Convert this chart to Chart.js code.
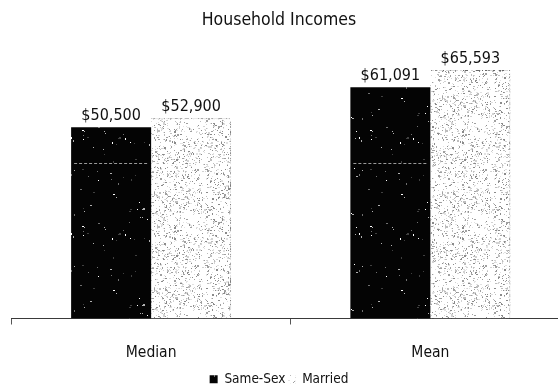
<!DOCTYPE html>
<html>
<head>
<meta charset="utf-8">
<style>
  html, body { margin: 0; padding: 0; background: #fff; }
  #wrap { width: 558px; height: 386px; position: relative; overflow: hidden; }
</style>
<script src="https://cdn.jsdelivr.net/npm/chart.js@4/dist/chart.umd.min.js"></script>
</head>
<body>
<div id="wrap"><canvas id="c" width="570" height="386"></canvas></div>
<script>
// Household income figures by couple type
const categories = ['Median', 'Mean'];
const seriesNames = ['Same-Sex', 'Married'];
const sameSexIncome = [50500, 61091];
const marriedIncome = [52900, 65593];
const yTop = 70000;
const refLineValue = 41000;

const FONT = '"DejaVu Sans Condensed", "DejaVu Sans", sans-serif';

// Small deterministic generator for the print-style grain texture
function makeRng(seed) {
  let s = seed >>> 0;
  return function () {
    s = (s * 1664525 + 1013904223) >>> 0;
    return s / 4294967296;
  };
}

function grainPattern(base, speckColors, density, seed) {
  const size = 96;
  const cv = document.createElement('canvas');
  cv.width = size; cv.height = size;
  const g = cv.getContext('2d');
  g.fillStyle = base;
  g.fillRect(0, 0, size, size);
  const rnd = makeRng(seed);
  const n = Math.round(size * size * density);
  for (let i = 0; i < n; i++) {
    const x = Math.floor(rnd() * size);
    const y = Math.floor(rnd() * size);
    g.fillStyle = speckColors[Math.floor(rnd() * speckColors.length)];
    const w = rnd() < 0.25 ? 2 : 1;
    const h = rnd() < 0.15 ? 2 : 1;
    g.fillRect(x, y, w, h);
  }
  const ctx = document.getElementById('c').getContext('2d');
  return ctx.createPattern(cv, 'repeat');
}

const darkFill = grainPattern('#040404', ['#ffffff', '#b0b0b0', '#707070', '#404040'], 0.007, 7);
const lightFill = grainPattern('#ffffff', ['#a0a0a0', '#bdbdbd', '#d2d2d2', '#8a8a8a', '#e2e2e2'], 0.14, 13);
const lightEdge = grainPattern('#d8d8d8', ['#666666', '#888888', '#ffffff'], 0.5, 21);

// Value labels above each bar
const valueLabels = {
  id: 'valueLabels',
  afterDatasetsDraw(chart) {
    const ctx = chart.ctx;
    ctx.save();
    ctx.font = '16px ' + FONT;
    ctx.fillStyle = '#111';
    ctx.textAlign = 'center';
    ctx.textBaseline = 'bottom';
    chart.data.datasets.forEach((ds, di) => {
      chart.getDatasetMeta(di).data.forEach((bar, i) => {
        const v = ds.data[i];
        ctx.fillText('$' + v.toLocaleString('en-US'), bar.x, bar.y - 3);
      });
    });
    ctx.restore();
  }
};

// Faint dashed reference line that shows only against the dark bars
const refLine = {
  id: 'refLine',
  afterDatasetsDraw(chart) {
    const ctx = chart.ctx;
    const y = Math.round(chart.scales.y.getPixelForValue(refLineValue)) + 0.5;
    const meta = chart.getDatasetMeta(0);
    ctx.save();
    ctx.strokeStyle = 'rgba(255,255,255,0.6)';
    ctx.lineWidth = 1;
    ctx.setLineDash([3, 2]);
    meta.data.forEach(bar => {
      const half = bar.width / 2;
      ctx.beginPath();
      ctx.moveTo(bar.x - half + 3, y);
      ctx.lineTo(bar.x + half - 3, y);
      ctx.stroke();
    });
    ctx.restore();
  }
};

new Chart(document.getElementById('c'), {
  type: 'bar',
  data: {
    labels: categories,
    datasets: [
      {
        label: seriesNames[0],
        data: sameSexIncome,
        backgroundColor: darkFill,
        borderWidth: 0
      },
      {
        label: seriesNames[1],
        data: marriedIncome,
        backgroundColor: lightFill,
        borderColor: lightEdge,
        borderWidth: { top: 1, right: 1, left: 0, bottom: 0 },
        borderSkipped: false
      }
    ]
  },
  plugins: [valueLabels, refLine],
  options: {
    responsive: false,
    animation: false,
    events: [],
    layout: { padding: { left: -12, right: 0, top: 0, bottom: -10 } },
    datasets: {
      bar: { categoryPercentage: 0.573, barPercentage: 1.0 }
    },
    scales: {
      x: {
        offset: true,
        grid: {
          display: true,
          offset: true,
          drawOnChartArea: false,
          drawTicks: true,
          tickLength: 6,
          color: '#555'
        },
        border: { display: true, color: '#3a3a3a', width: 1 },
        ticks: {
          color: '#111',
          font: { family: FONT, size: 15.5 },
          padding: 19
        },
        afterFit(axis) { axis.height = 52; }
      },
      y: {
        display: true,
        min: 0,
        max: yTop,
        ticks: { display: false },
        grid: { display: false },
        border: { display: false },
        afterFit(axis) { axis.width = 23.5; }
      }
    },
    plugins: {
      tooltip: { enabled: false },
      title: {
        display: true,
        text: 'Household Incomes',
        color: '#111',
        font: { family: FONT, size: 17.5, weight: 'normal' },
        padding: { top: 10, bottom: 22.4 }
      },
      legend: {
        display: true,
        position: 'bottom',
        labels: {
          color: '#111',
          font: { family: FONT, size: 13.5 },
          boxWidth: 8,
          boxHeight: 8,
          padding: 2,
          generateLabels(chart) {
            const items = Chart.defaults.plugins.legend.labels.generateLabels(chart);
            items.forEach(it => { it.lineWidth = 0; it.strokeStyle = 'transparent'; });
            return items;
          }
        }
      }
    }
  }
});
</script>
</body>
</html>
